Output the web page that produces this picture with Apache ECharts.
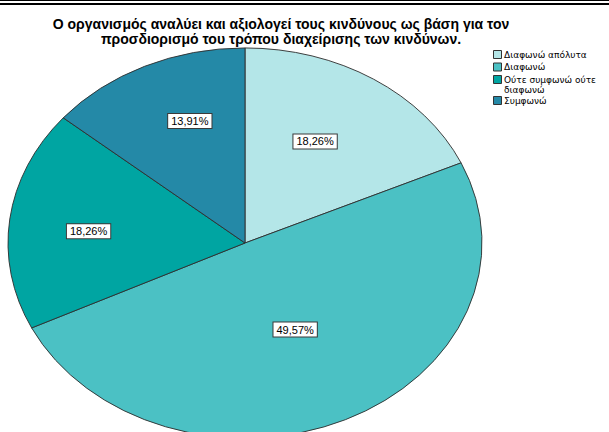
<!DOCTYPE html>
<html>
<head>
<meta charset="utf-8">
<script src="https://cdn.jsdelivr.net/npm/echarts@6/dist/echarts.min.js"></script>
<style>
  html, body { margin: 0; padding: 0; background: #fff; }
  #chart { width: 609px; height: 432px; }
</style>
</head>
<body>
<div id="chart"></div>
<script>
// Survey item and answer shares
const titleLines = [
  'Ο οργανισμός αναλύει και αξιολογεί τους κινδύνους ως βάση για τον',
  'προσδιορισμό του τρόπου διαχείρισης των κινδύνων.'
];
const categories = ['Διαφωνώ απόλυτα', 'Διαφωνώ', 'Ούτε συμφωνώ ούτε\nδιαφωνώ', 'Συμφωνώ'];
const percents = [18.26, 49.57, 18.26, 13.91];
const colors = ['#b4e6e8', '#4bc1c4', '#00a5a2', '#2489a7'];

// Elliptical pie geometry (a circle stretched horizontally)
const CX = 245, CY = 243, RX = 237, RY = 195;
// where each value box sits along its slice's middle direction (x and y fractions of the radii)
const labelAnchor = [[0.545, 0.62], [0.5, 0.49], [0.665, 0.49], [0.55, 0.69]];
const FONT = '"Liberation Sans", Arial, sans-serif';
const LEGEND_FONT = '"DejaVu Sans", Verdana, sans-serif';

const total = percents.reduce((a, b) => a + b, 0);
const fmt = v => v.toFixed(2).replace('.', ',') + '%';

function sliceRenderer(idx) {
  return function (params, api) {
    const before = percents.slice(0, idx).reduce((a, b) => a + b, 0);
    const value = api.value(0);
    const a0 = -Math.PI / 2 + before / total * 2 * Math.PI;
    const a1 = a0 + value / total * 2 * Math.PI;
    const mid = (a0 + a1) / 2;
    const [fx, fy] = labelAnchor[idx];
    return {
      type: 'group',
      children: [
        {
          type: 'group',
          x: CX, y: CY,
          scaleY: RY / RX,
          children: [{
            type: 'sector',
            shape: { cx: 0, cy: 0, r0: 0, r: RX, startAngle: a0, endAngle: a1, clockwise: true },
            style: { fill: colors[idx], stroke: '#2e2e2e', lineWidth: 1, strokeNoScale: true }
          }]
        },
        {
          type: 'text',
          z2: 10,
          x: CX + Math.cos(mid) * RX * fx,
          y: CY + Math.sin(mid) * RY * fy,
          style: {
            text: fmt(value),
            fill: '#000',
            font: '11px ' + FONT,
            align: 'center',
            verticalAlign: 'middle',
            backgroundColor: '#fff',
            borderColor: '#3a3a3a',
            borderWidth: 1,
            padding: [2, 3, 1, 3]
          }
        }
      ]
    };
  };
}

// Legend: colour swatch plus answer text, one row per category
const legendTops = [50, 62.5, 75, 96];
const LEGEND_LINE = 10.5;
const legendItems = categories.map((name, i) => ({
  type: 'group',
  x: 493,
  y: legendTops[i],
  children: [
    {
      type: 'rect',
      shape: { x: 0.5, y: 0.5, width: 8, height: 8 },
      style: { fill: colors[i], stroke: '#333', lineWidth: 1 }
    },
    {
      type: 'text',
      x: 11, y: 4.5 - LEGEND_LINE / 2,
      style: {
        text: name,
        font: '9px ' + LEGEND_FONT,
        lineHeight: LEGEND_LINE,
        fill: '#000',
        align: 'left',
        verticalAlign: 'top'
      }
    }
  ]
}));

const chart = echarts.init(document.getElementById('chart'), null, { renderer: 'svg' });

chart.setOption({
  animation: false,
  backgroundColor: '#fff',
  graphic: [
    { type: 'rect', shape: { x: 0, y: 0, width: 609, height: 1 }, style: { fill: '#000' } },
    { type: 'rect', shape: { x: 0, y: 3, width: 609, height: 2 }, style: { fill: '#000' } },
    {
      type: 'text',
      x: 281, y: 16,
      style: {
        text: titleLines.join('\n'),
        font: 'bold 14px ' + FONT,
        lineHeight: 15,
        fill: '#000',
        align: 'center',
        verticalAlign: 'top'
      }
    }
  ].concat(legendItems),
  series: categories.map((name, i) => ({
    type: 'custom',
    name,
    coordinateSystem: 'none',
    silent: true,
    itemStyle: { color: colors[i] },
    data: [[percents[i]]],
    renderItem: sliceRenderer(i)
  }))
});
</script>
</body>
</html>
